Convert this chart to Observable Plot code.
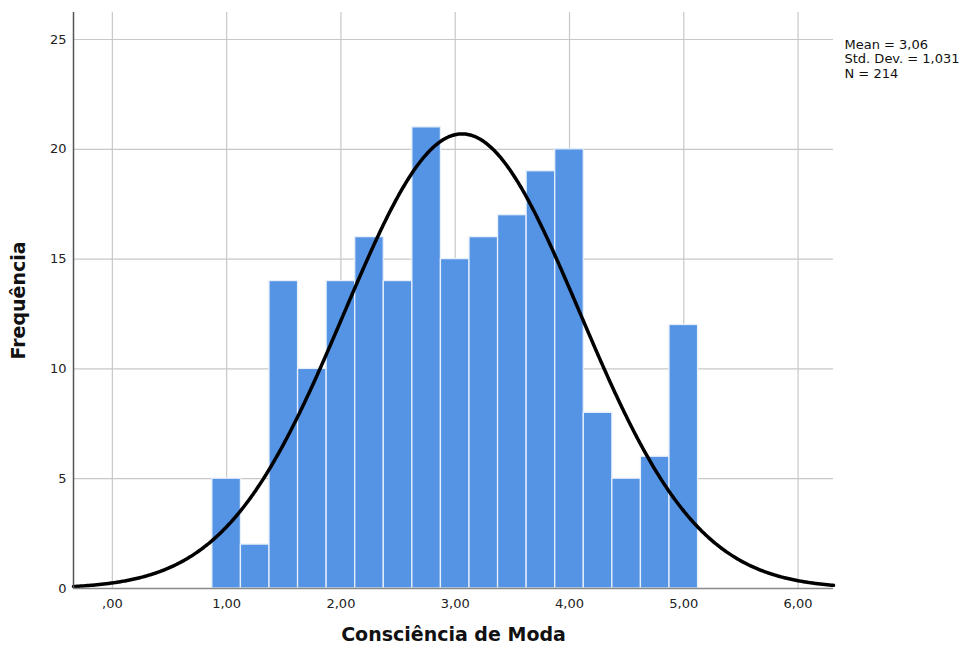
<!DOCTYPE html>
<html>
<head>
<meta charset="utf-8">
<script src="https://cdn.jsdelivr.net/npm/d3@7"></script>
<script src="https://cdn.jsdelivr.net/npm/@observablehq/plot@0.6"></script>
<style>
  html, body { margin: 0; padding: 0; background: #fff; }
</style>
</head>
<body>
<div id="chart"></div>
<script>
// Histogram of "Consciência de Moda" (bin width 0.25)
const binStarts = [0.875, 1.125, 1.375, 1.625, 1.875, 2.125, 2.375, 2.625, 2.875,
                   3.125, 3.375, 3.625, 3.875, 4.125, 4.375, 4.625, 4.875];
const binEnds   = [1.125, 1.375, 1.625, 1.875, 2.125, 2.375, 2.625, 2.875, 3.125,
                   3.375, 3.625, 3.875, 4.125, 4.375, 4.625, 4.875, 5.125];
const counts    = [5, 2, 14, 10, 14, 16, 14, 21, 15, 16, 17, 19, 20, 8, 5, 6, 12];

// Summary statistics shown beside the chart
const mean = 3.06;
const stdDev = 1.031;
const n = 214;
const binWidth = 0.25;

const xTicks = [0, 1, 2, 3, 4, 5, 6];
const yTicks = [0, 5, 10, 15, 20, 25];
const xDomain = [-0.34, 6.31];
const yDomain = [0, 26.23];

const bins = counts.map((c, i) => ({x1: binStarts[i], x2: binEnds[i], count: c}));

// Fitted normal curve scaled to frequency: N * binWidth * pdf(x)
const curve = d3.range(xDomain[0], xDomain[1] + 0.001, 0.01).map(x => ({
  x,
  y: n * binWidth * Math.exp(-0.5 * ((x - mean) / stdDev) ** 2) / (stdDev * Math.sqrt(2 * Math.PI))
}));

const fmtX = d => {
  const s = d.toFixed(2).replace(".", ",");
  return d === 0 ? s.slice(1) : s;
};

const chart = Plot.plot({
  width: 969,
  height: 655,
  marginLeft: 73,
  marginRight: 136,
  marginTop: 12,
  marginBottom: 67,
  style: {fontFamily: "DejaVu Sans", fontSize: "13px", color: "#222", background: "#fff"},
  x: {domain: xDomain, ticks: xTicks},
  y: {domain: yDomain, ticks: yTicks},
  marks: [
    Plot.gridX(xTicks, {stroke: "#c8c8c8", strokeOpacity: 1, strokeWidth: 1.2}),
    Plot.gridY(yTicks, {stroke: "#c8c8c8", strokeOpacity: 1, strokeWidth: 1.2}),
    Plot.rectY(bins, {x1: "x1", x2: "x2", y: "count", fill: "#5594E4", stroke: "#e6effb", strokeWidth: 1.3}),
    Plot.line(curve, {x: "x", y: "y", stroke: "#000", strokeWidth: 3.5, curve: "linear"}),
    Plot.ruleY([0], {stroke: "#8a8a8a", strokeWidth: 1.5}),
    Plot.ruleX([xDomain[0]], {stroke: "#555", strokeWidth: 1.5}),
    Plot.axisX(xTicks, {tickSize: 0, tickPadding: 10, tickFormat: fmtX, label: null, fontSize: 13}),
    Plot.axisY(yTicks, {tickSize: 0, tickPadding: 7, label: null, fontSize: 13}),
    Plot.text(["Consciência de Moda"], {frameAnchor: "bottom", dy: 52, fontSize: 19, fontWeight: "bold", fill: "#111"}),
    Plot.text(["Frequência"], {frameAnchor: "left", dx: -55, rotate: -90, textAnchor: "middle", fontSize: 19, fontWeight: "bold", fill: "#111"}),
    Plot.text([`Mean = ${mean.toFixed(2).replace(".", ",")}\nStd. Dev. = ${stdDev.toFixed(3).replace(".", ",")}\nN = ${n}`], {
      frameAnchor: "top-right", dx: 11, dy: 26, textAnchor: "start", lineAnchor: "top",
      lineHeight: 1.12, fontSize: 13, fill: "#111"
    })
  ]
});

document.getElementById("chart").appendChild(chart);
</script>
</body>
</html>
